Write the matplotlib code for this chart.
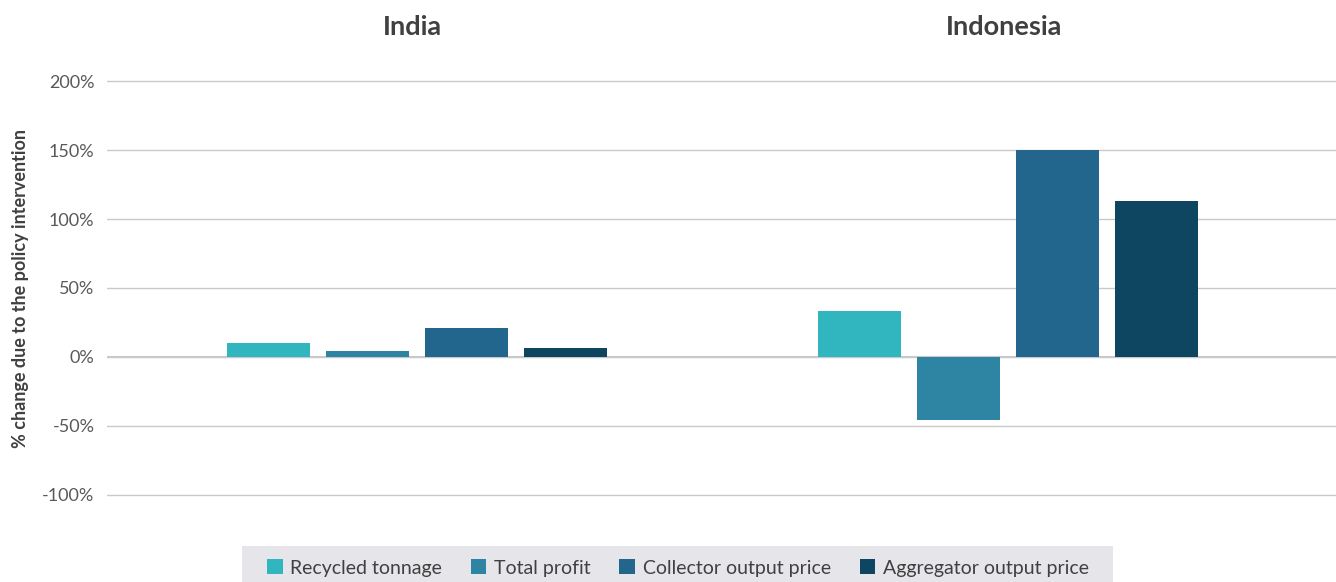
import matplotlib
matplotlib.use("Agg")
import matplotlib.pyplot as plt
import matplotlib.transforms as mtransforms
from matplotlib.patches import Rectangle
import numpy as np
from matplotlib.ticker import FuncFormatter

countries = ["India", "Indonesia"]
series = ["Recycled tonnage", "Total profit", "Collector output price", "Aggregator output price"]
values = {
    "Recycled tonnage": [10.2, 33.5],
    "Total profit": [4.3, -45.5],
    "Collector output price": [21.0, 150.0],
    "Aggregator output price": [6.5, 113.0],
}
colors = ["#31b5bf", "#2d84a3", "#22668d", "#0e4561"]
yticks = [-100, -50, 0, 50, 100, 150, 200]

plt.rcParams['font.family'] = ['Lato', 'DejaVu Sans']

W, H = 1336, 582
fig = plt.figure(figsize=(W/100, H/100), dpi=100)
ax = fig.add_axes([107/W, 1 - 497/H, (W-107)/W, (497-79)/H])

x = np.arange(len(countries))
width = 0.1404
step = 0.1675
for i, (s, c) in enumerate(zip(series, colors)):
    ax.bar(x + (i - 1.5) * step, values[s], width=width, color=c, label=s, zorder=3)

ax.set_ylim(-101.5, 201.5)
ax.set_xlim(-0.524, 1.554)
ax.set_yticks(yticks)
ax.yaxis.set_major_formatter(FuncFormatter(lambda v, p: f"{int(v)}%"))
ax.grid(axis='y', color='#c9c9cc', linewidth=1.0, zorder=0)
ax.axhline(0, color='#c9c9cc', linewidth=1.5, zorder=2)
ax.set_xticks([])
for sp in ax.spines.values():
    sp.set_visible(False)
ax.tick_params(axis='y', length=0, pad=9, labelsize=13, labelcolor='#595959')
ax.set_ylabel("% change due to the policy intervention", fontsize=13, fontweight='bold',
              color='#404040')
ax.yaxis.set_label_coords(-0.0635, 0.5)

tr = mtransforms.blended_transform_factory(ax.transData, fig.transFigure)
for xi, name in zip(x, countries):
    ax.text(xi - 0.008, 1.0 - 27/H, name, transform=tr,
            ha='center', va='center', fontsize=19.5, fontweight='bold', color='#404040')

# legend background band
fig.patches.append(Rectangle((242/W, 0), (1113-242)/W, (H-546)/H, transform=fig.transFigure,
                             facecolor='#e6e6ea', edgecolor='none', zorder=0))
leg = fig.legend(loc='center', bbox_to_anchor=(678/W, 1 - 568/H), ncol=4, frameon=False,
                 fontsize=14, handlelength=0.82, handleheight=0.82, columnspacing=1.45,
                 handletextpad=0.41, borderpad=0.0, borderaxespad=0.0)
for t in leg.get_texts():
    t.set_color('#404040')

fig.savefig("out.png", dpi=100)
